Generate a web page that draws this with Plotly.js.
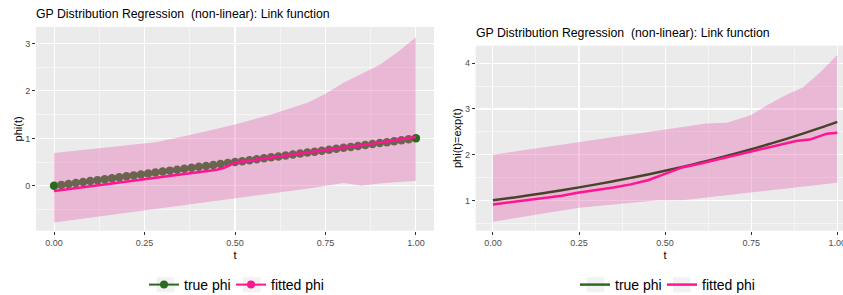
<!DOCTYPE html>
<html><head><meta charset="utf-8">
<script src="https://cdn.plot.ly/plotly-3.0.1.min.js"></script>
<style>html,body{margin:0;padding:0;overflow:hidden;background:#fff}#wrap{width:843px;height:295px;overflow:hidden}#chart{width:856px;height:295px}</style>
</head><body><div id="wrap"><div id="chart"></div></div>
<script>
// ---- Left panel data (phi(t) = t) ----
const tTrue = [0,0.02,0.04,0.06,0.08,0.1,0.12,0.14,0.16,0.18,0.2,0.22,0.24,0.26,0.28,0.3,0.32,0.34,0.36,0.38,0.4,0.42,0.44,0.46,0.48,0.5,0.52,0.54,0.56,0.58,0.6,0.62,0.64,0.66,0.68,0.7,0.72,0.74,0.76,0.78,0.8,0.82,0.84,0.86,0.88,0.9,0.92,0.94,0.96,0.98,1];
const phiTrueLeft = [0,0.02,0.04,0.06,0.08,0.1,0.12,0.14,0.16,0.18,0.2,0.22,0.24,0.26,0.28,0.3,0.32,0.34,0.36,0.38,0.4,0.42,0.44,0.46,0.48,0.5,0.52,0.54,0.56,0.58,0.6,0.62,0.64,0.66,0.68,0.7,0.72,0.74,0.76,0.78,0.8,0.82,0.84,0.86,0.88,0.9,0.92,0.94,0.96,0.98,1];
const tFitLeft = [0,0.05,0.1,0.15,0.2,0.25,0.3,0.35,0.4,0.45,0.47,0.5,0.55,0.6,0.65,0.7,0.75,0.8,0.85,0.9,0.95,1];
const phiFitLeft = [-0.11,-0.06,-0.01,0.04,0.09,0.14,0.19,0.24,0.29,0.34,0.38,0.49,0.54,0.6,0.65,0.7,0.75,0.8,0.85,0.91,0.97,1.03];
const tBandLeft = [0,0.1,0.2,0.28,0.35,0.4,0.5,0.6,0.7,0.75,0.8,0.85,0.9,0.95,1];
const upperLeft = [0.69,0.77,0.85,0.92,1.03,1.11,1.29,1.5,1.75,1.94,2.17,2.36,2.55,2.82,3.13];
const lowerLeft = [-0.77,-0.67,-0.57,-0.49,-0.42,-0.37,-0.26,-0.16,-0.06,0.0,0.06,0.0,0.05,0.08,0.1];

// ---- Right panel data (phi(t) = exp(t)) ----
const tTrueRight = [0,0.05,0.1,0.15,0.2,0.25,0.3,0.35,0.4,0.45,0.5,0.55,0.6,0.65,0.7,0.75,0.8,0.85,0.9,0.95,1];
const phiTrueRight = [1.000,1.051,1.105,1.162,1.221,1.284,1.350,1.419,1.492,1.568,1.649,1.733,1.822,1.916,2.014,2.117,2.226,2.340,2.460,2.586,2.718];
const tFitRight = [0,0.1,0.2,0.25,0.3,0.35,0.4,0.45,0.5,0.55,0.6,0.65,0.7,0.75,0.8,0.85,0.88,0.92,0.95,0.97,1];
const phiFitRight = [0.91,1.0,1.1,1.17,1.22,1.28,1.35,1.44,1.58,1.72,1.8,1.89,1.98,2.07,2.16,2.26,2.3,2.33,2.4,2.46,2.48];
const tBandRight = [0,0.1,0.2,0.25,0.48,0.55,0.62,0.68,0.75,0.8,0.85,0.9,0.95,1];
const upperRight = [2.0,2.11,2.22,2.28,2.53,2.6,2.68,2.7,2.87,3.1,3.3,3.47,3.8,4.18];
const lowerRight = [0.53,0.65,0.78,0.84,1.0,1.0,1.06,1.11,1.18,1.22,1.26,1.3,1.34,1.385];

const xTickVals = [0,0.25,0.5,0.75,1];
const xTickText = ['0.00','0.25','0.50','0.75','1.00'];
const yTickLeft = [0,1,2,3];
const yTickRight = [1,2,3,4];
const legendNames = ['true phi','fitted phi'];
const titleText = 'GP Distribution Regression \u00a0(non-linear): Link function';

const W = 856, H = 295;
const PINK = '#FF1493', GREEN = '#2A6B1E', BROWN = '#6B6550', OLIVE = '#46452A';
const BAND = 'rgba(230,90,170,0.35)';

const markerColors = tTrue.map((v,i)=> (i===0||i===tTrue.length-1) ? GREEN : BROWN);

function band(t, lo, up, xa, ya){
  return [
    {x:t, y:lo, xaxis:xa, yaxis:ya, mode:'lines', line:{width:0,color:BAND}, showlegend:false, hoverinfo:'skip'},
    {x:t, y:up, xaxis:xa, yaxis:ya, mode:'lines', line:{width:0,color:BAND}, fill:'tonexty', fillcolor:BAND, showlegend:false, hoverinfo:'skip'}
  ];
}

const traces = [
  ...band(tBandLeft, lowerLeft, upperLeft, 'x', 'y'),
  {x:tTrue, y:phiTrueLeft, xaxis:'x', yaxis:'y', mode:'lines+markers', line:{color:BROWN,width:2}, marker:{size:8.5,color:markerColors}, showlegend:false},
  {x:tFitLeft, y:phiFitLeft, xaxis:'x', yaxis:'y', mode:'lines', line:{color:PINK,width:2.5}, showlegend:false},
  ...band(tBandRight, lowerRight, upperRight, 'x2', 'y2'),
  {x:tTrueRight, y:phiTrueRight, xaxis:'x2', yaxis:'y2', mode:'lines', line:{color:OLIVE,width:2.5,shape:'spline'}, showlegend:false},
  {x:tFitRight, y:phiFitRight, xaxis:'x2', yaxis:'y2', mode:'lines', line:{color:PINK,width:2.5}, showlegend:false},
  // legend entries
  {x:[null], y:[null], xaxis:'x', yaxis:'y', mode:'lines+markers', name:legendNames[0], legendwidth:42, line:{color:GREEN,width:2}, marker:{size:8,color:GREEN}, legend:'legend'},
  {x:[null], y:[null], xaxis:'x', yaxis:'y', mode:'lines+markers', name:legendNames[1], line:{color:PINK,width:2}, marker:{size:8,color:PINK}, legend:'legend'},
  {x:[null], y:[null], xaxis:'x2', yaxis:'y2', mode:'lines', name:legendNames[0], legendwidth:42, line:{color:GREEN,width:2.5}, legend:'legend2'},
  {x:[null], y:[null], xaxis:'x2', yaxis:'y2', mode:'lines', name:legendNames[1], line:{color:PINK,width:2.5}, legend:'legend2'}
];

const tickFont = {family:'Liberation Sans, Arial, sans-serif', size:9, color:'#4D4D4D'};
const titleFont = {family:'Liberation Sans, Arial, sans-serif', size:11, color:'#000'};
function xax(domain){
  return {domain, range:[-0.05,1.05], tickvals:xTickVals, ticktext:xTickText, ticks:'outside', ticklen:3, tickcolor:'#333', tickwidth:1,
    showgrid:true, gridcolor:'#fff', gridwidth:1.1, zeroline:false, showline:false, tickfont:tickFont,
    minor:{tick0:0.125, dtick:0.25, showgrid:true, gridcolor:'#fff', gridwidth:0.5, ticklen:0},
    title:{text:'t', font:titleFont, standoff:4}};
}
function yax(domain, range, tv, anchor, title, so){
  return {domain, range, tickvals:tv, ticks:'outside', ticklen:3, tickcolor:'#333', tickwidth:1, anchor,
    showgrid:true, gridcolor:'#fff', gridwidth:1.1, zeroline:false, showline:false, tickfont:tickFont,
    minor:{tick0:0.5, dtick:1, showgrid:true, gridcolor:'#fff', gridwidth:0.5, ticklen:0},
    title:{text:title, font:titleFont, standoff:so}};
}
const yb = (H-230.7)/H;
const legCommon = {orientation:'h', xanchor:'left', yanchor:'middle', traceorder:'normal', bgcolor:'rgba(0,0,0,0)', font:{size:14,color:'#000'}};
const layout = {
  width:W, height:H, margin:{l:0,r:0,t:0,b:0,autoexpand:false},
  paper_bgcolor:'#fff', plot_bgcolor:'#EBEBEB',
  font:{family:'Liberation Sans, Arial, sans-serif'},
  xaxis: Object.assign(xax([36/W, 434/W]), {anchor:'y'}),
  yaxis: yax([yb, (H-27)/H], [-0.945,3.345], yTickLeft, 'x', 'phi(t)', 0),
  xaxis2: Object.assign(xax([475.7/W, 854.5/W]), {anchor:'y2'}),
  yaxis2: yax([yb, (H-45.7)/H], [0.336,4.384], yTickRight, 'x2', 'phi(t)=exp(t)', 1),
  showlegend:true,
  legend: Object.assign({x:144/W, y:10/H}, legCommon),
  legend2: Object.assign({x:575/W, y:10/H}, legCommon),
  annotations:[
    {text:titleText, xref:'paper', yref:'paper', x:34/W, y:(H-14)/H, xanchor:'left', yanchor:'middle', showarrow:false, font:{size:12.3,color:'#000'}},
    {text:titleText, xref:'paper', yref:'paper', x:473.7/W, y:(H-33.5)/H, xanchor:'left', yanchor:'middle', showarrow:false, font:{size:12.3,color:'#000'}}
  ],
  shapes:[
    {type:'rect', xref:'paper', yref:'paper', x0:156.7/W, x1:174.3/W, y0:(H-292.3)/H, y1:(H-277.3)/H, fillcolor:'#F2F2F2', line:{width:0}, layer:'below'},
    {type:'rect', xref:'paper', yref:'paper', x0:243/W, x1:260.6/W, y0:(H-292.3)/H, y1:(H-277.3)/H, fillcolor:'#F2F2F2', line:{width:0}, layer:'below'},
    {type:'rect', xref:'paper', yref:'paper', x0:586.7/W, x1:604.3/W, y0:(H-292.3)/H, y1:(H-277.3)/H, fillcolor:'#F2F2F2', line:{width:0}, layer:'below'},
    {type:'rect', xref:'paper', yref:'paper', x0:673/W, x1:690.6/W, y0:(H-292.3)/H, y1:(H-277.3)/H, fillcolor:'#F2F2F2', line:{width:0}, layer:'below'}
  ]
};
Plotly.newPlot('chart', traces, layout, {displayModeBar:false, staticPlot:true});
</script></body></html>
